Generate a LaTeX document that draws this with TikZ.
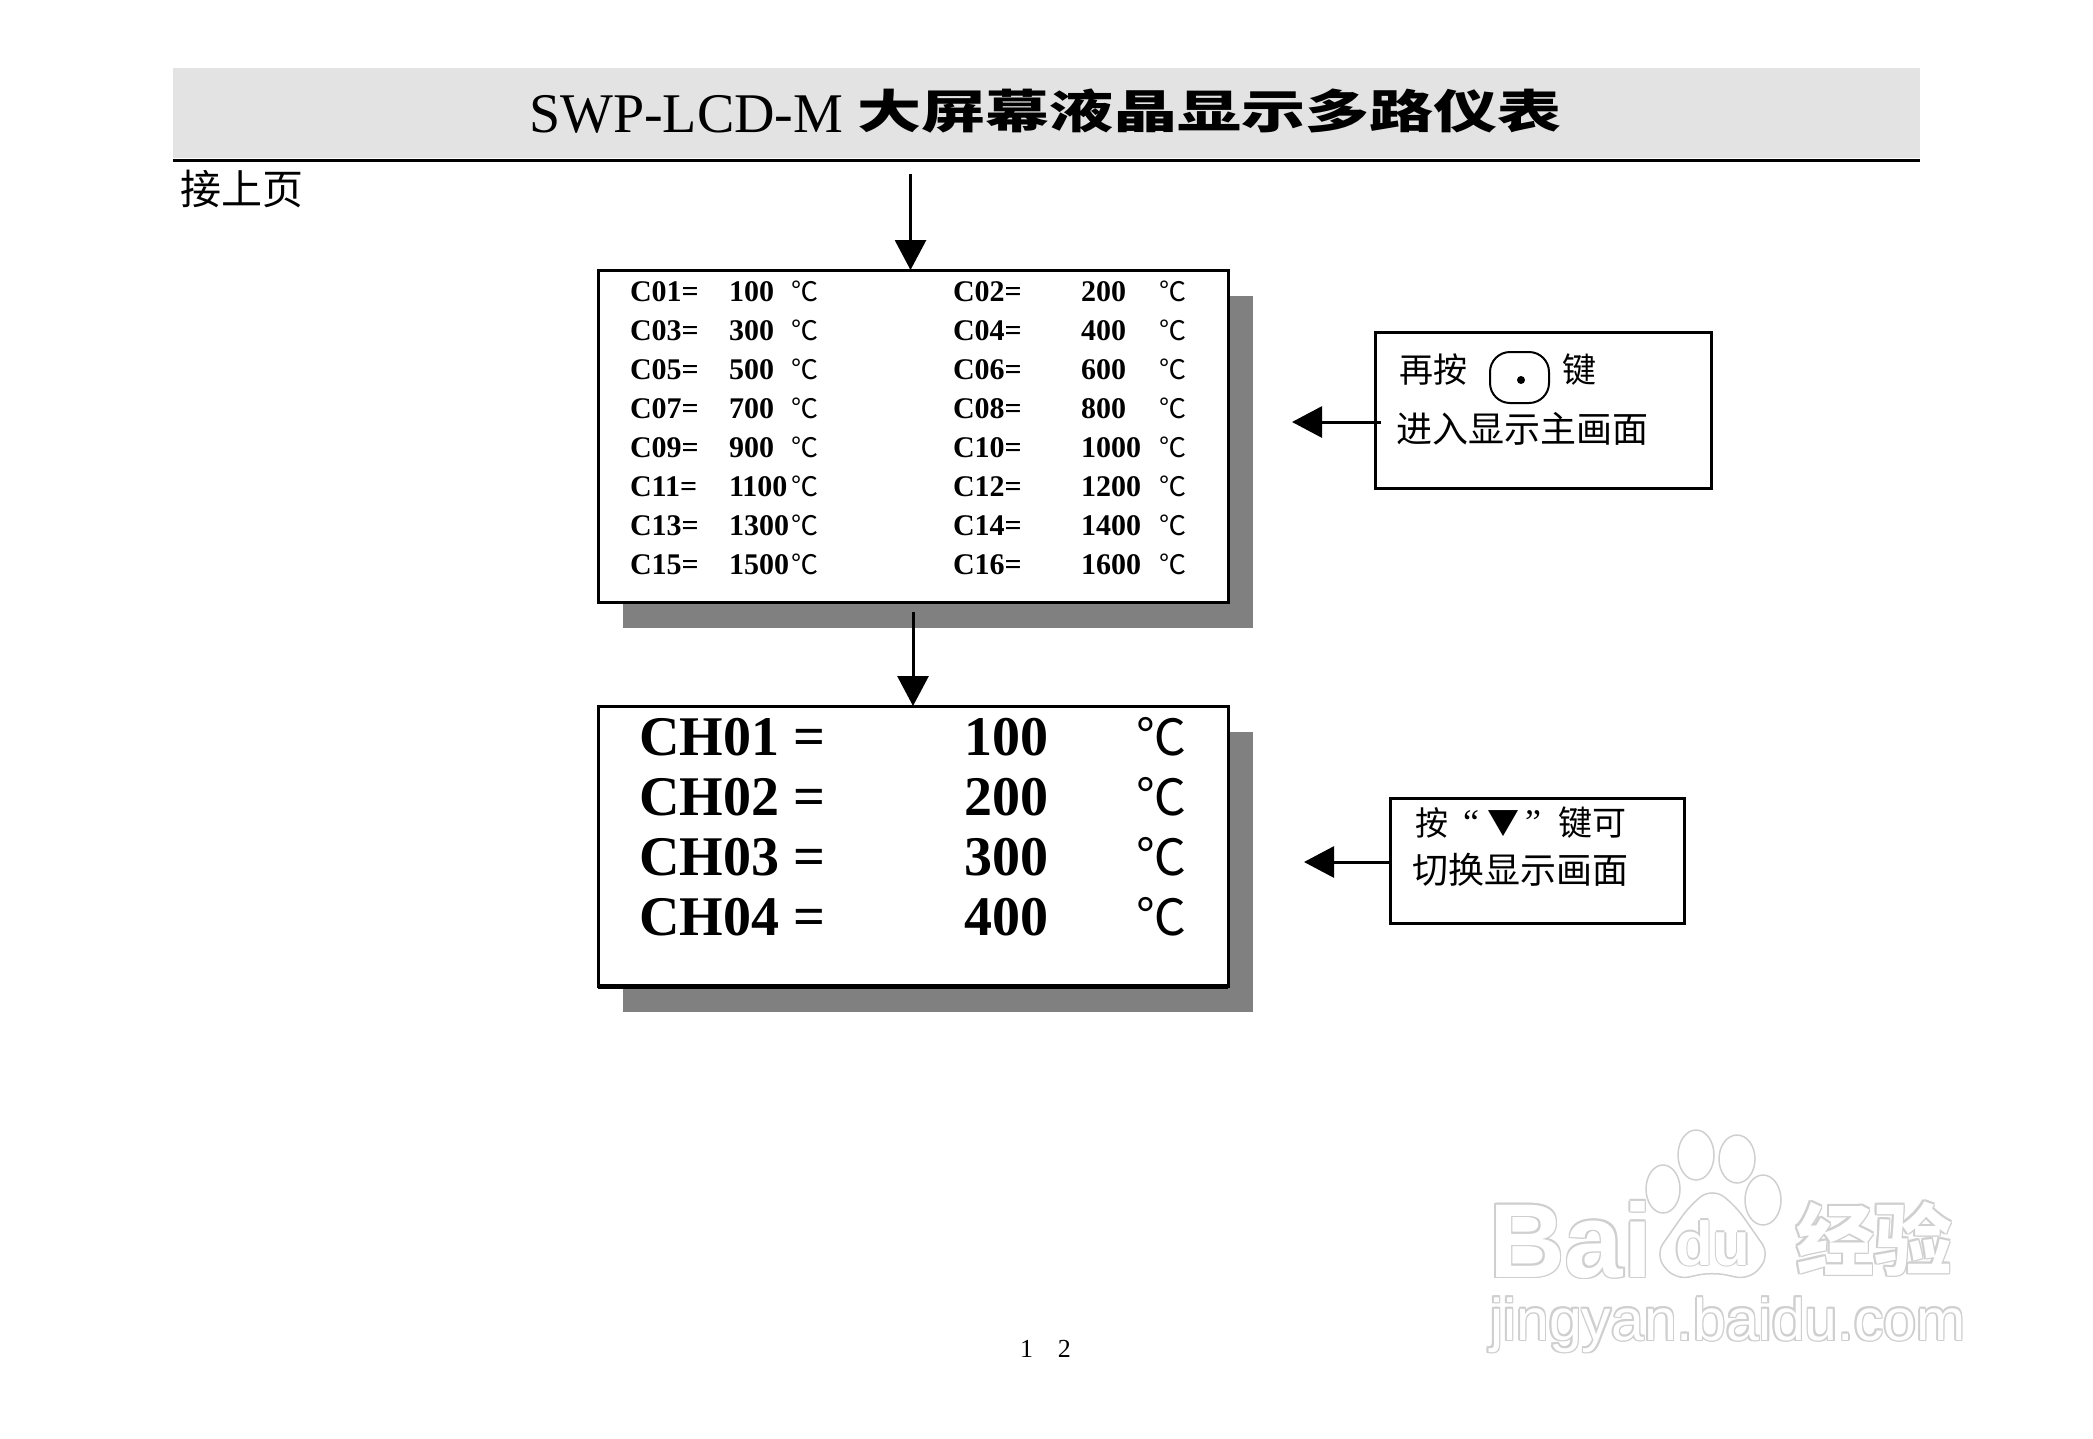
\documentclass[tikz,border=0pt]{standalone}
\usepackage{fontspec}
\usepackage{graphicx}
\usetikzlibrary{arrows.meta,positioning,shadows}
\setmainfont{Liberation Serif}
\setsansfont{Liberation Sans}
\newfontfamily\cjk{Noto Sans CJK SC}
\definecolor{band}{HTML}{E3E3E3}
\definecolor{shade}{HTML}{808080}
\definecolor{faint}{HTML}{CFCFCF}
\newcommand{\fs}[1]{\fontsize{#1}{#1}\selectfont}
\begin{document}
\begin{tikzpicture}[x=1pt,y=-1pt,
          every node/.style={inner sep=0pt,outer sep=0pt},
          screen/.style={draw,line width=3pt,fill=white,minimum width=630pt,
              general shadow={fill=shade,shadow xshift=25pt,shadow yshift=-26pt}},
          hint/.style={draw,line width=3pt,fill=white},
          pointer/.style={-{Triangle[length=30pt,width=31pt]},line width=3pt},
          small/.style={anchor=base west,font=\bfseries\fs{30}},
          smalldeg/.style={anchor=base west,font=\cjk\fs{27}},
          large/.style={anchor=base west,font=\bfseries\fs{56}},
          largedeg/.style={anchor=base west,font=\cjk\fs{50}},
          say/.style={anchor=base west,font=\cjk\fs{34}},
          paw/.style={draw=faint,line width=1.5pt}]
        \useasboundingbox (0,0) rectangle (2093,1438);
        \node[fill=band,minimum width=1747pt,minimum height=90pt] (band) at (1046.5,113) {};
        \draw[line width=3pt] ([yshift=-2.5pt]band.south west)--([yshift=-2.5pt]band.south east);
        \node[anchor=base west,font=\fs{56}] (title) at (529,132) {SWP-LCD-M};
        \node[anchor=base west,font=\cjk\bfseries\fs{64}] (titlecn) at (857,128)
            {\scalebox{1}[.72]{大屏幕液晶显示多路仪表}};
        \node[anchor=base west,font=\cjk\fs{41}] (cont) at (180,204) {接上页};

        \node[screen,minimum height=332pt] (list) at (913,436) {};
        \node[screen,minimum height=280pt,below=104pt of list] (main) {};
        \draw[line width=5pt] (main.south west)--(main.south east);
        \foreach \ca/\va/\cb/\vb [count=\r from 0] in
            {C01=/100/C02=/200,C03=/300/C04=/400,C05=/500/C06=/600,C07=/700/C08=/800,
             C09=/900/C10=/1000,C11=/1100/C12=/1200,C13=/1300/C14=/1400,C15=/1500/C16=/1600}{
          \node[small] (ca\r) at (630,{301+39*\r}) {\ca};
          \node[small] (va\r) at (729,{301+39*\r}) {\va};
          \node[smalldeg] (da\r) at (791,{301+39*\r}) {℃};
          \node[small] (cb\r) at (953,{301+39*\r}) {\cb};
          \node[small] (vb\r) at (1081,{301+39*\r}) {\vb};
          \node[smalldeg] (db\r) at (1159,{301+39*\r}) {℃};
        }
        \foreach \c/\v [count=\r from 0] in {01/100,02/200,03/300,04/400}{
          \node[large] (ch\r) at (639,{755+60*\r}) {CH\c\ =};
          \node[large] (val\r) at (964,{755+60*\r}) {\v};
          \node[largedeg] (deg\r) at (1136,{755+60*\r}) {℃};
        }

        \node[hint,minimum width=336pt,minimum height=156pt] (hinta) at (1543,410) {};
        \node[say] (press) at (1399,382) {再按};
        \node[draw,line width=2pt,rounded corners=20pt,minimum width=59pt,minimum height=51pt] (key) at (1519.5,377.5) {};
        \node[fill,circle,minimum size=8pt] (dot) at (1521,380) {};
        \node[say] (keyname) at (1562,382) {键};
        \node[say,font=\cjk\fs{36}] (enter) at (1396,442) {进入显示主画面};

        \node[hint,minimum width=294pt,minimum height=125pt] (hintb) at (1537,860.5) {};
        \node[say,font=\cjk\fs{33}] (down) at (1415,835) {按};
        \node[anchor=base west,font=\fs{36}] (downa) at (1463,834) {“};
        \node[anchor=base west,font=\cjk\fs{32}] (downm) at (1487,834) {▼};
        \node[anchor=base west,font=\fs{36}] (downb) at (1525,834) {”};
        \node[say,font=\cjk\fs{34}] (downc) at (1558,835) {键可};
        \node[say,font=\cjk\fs{36}] (swap) at (1412,883) {切换显示画面};

        \coordinate (topa) at (910.5,174);
        \coordinate (topb) at (913,612);
        \coordinate (tipa) at (1292,422);
        \coordinate (tipb) at (1304,862);
        \draw[pointer] (topa)--(topa|-list.north);
        \draw[pointer] (topb)--(topb|-main.north);
        \draw[pointer] ([xshift=6pt]hinta.west|-tipa)--(tipa);
        \draw[pointer] (hintb.west|-tipb)--(tipb);

        \node[anchor=base west,font=\fs{26}] (page) at (1020,1357) {1\hspace{25pt}2};

        \foreach \ox/\oy [count=\k] in {-1.6/0,1.6/0,0/-1.6,0/1.6,-1.2/-1.2,1.2/-1.2,-1.2/1.2,1.2/1.2,0/0}{
          \ifnum\k=9 \colorlet{ink}{white}\else \colorlet{ink}{faint}\fi
          \node[anchor=base west,text=ink,font=\sffamily\bfseries\fs{105}] (bai\k) at ({1489+\ox},{1277+\oy}) {Bai};
          \node[anchor=base west,text=ink,font=\cjk\bfseries\fs{78}] (exp\k) at ({1796+\ox},{1269+\oy}) {经验};
          \node[anchor=base west,text=ink,font=\sffamily\fs{59}] (url\k) at ({1490+\ox},{1340+\oy}) {jingyan.baidu.com};
        }
        \draw[paw] (1663,1189) ellipse (17 and 24);
        \draw[paw] (1696,1155) ellipse (18 and 25);
        \draw[paw] (1737,1159) ellipse (18 and 24);
        \draw[paw] (1763,1200) ellipse (18 and 25);
        \draw[paw,fill=white,rounded corners=14pt] (1712,1188)--(1735,1205)--(1770,1255)--(1750,1280)--(1712,1272)--(1675,1280)--(1655,1255)--(1690,1205)--cycle;
        \foreach \ox/\oy [count=\k] in {-1.4/0,1.4/0,0/-1.4,0/1.4,0/0}{
          \ifnum\k=5 \colorlet{ink}{white}\else \colorlet{ink}{faint}\fi
          \node[anchor=base west,text=ink,font=\sffamily\bfseries\fs{62}] (du\k) at ({1675+\ox},{1265+\oy}) {du};
        }
      \end{tikzpicture}
\end{document}
